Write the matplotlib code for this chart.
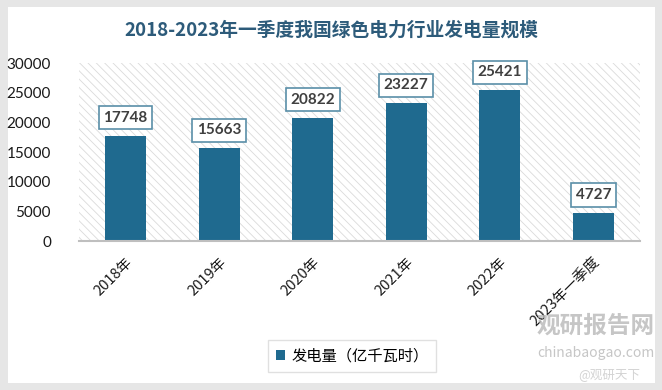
import matplotlib
matplotlib.use("Agg")
import matplotlib.pyplot as plt
from matplotlib.patches import Rectangle

plt.rcParams["font.family"] = ["Noto Sans CJK SC", "DejaVu Sans"]
plt.rcParams["hatch.linewidth"] = 0.6

categories = ["2018年", "2019年", "2020年", "2021年", "2022年", "2023年一季度"]
generation = [17748, 15663, 20822, 23227, 25421, 4727]
yticks = [0, 5000, 10000, 15000, 20000, 25000, 30000]

bar_color = "#1f6a8f"

fig = plt.figure(figsize=(6.62, 3.90), dpi=100, facecolor="#e6e6e6")
# white card behind everything
fig.patches.append(Rectangle((0.012, 0.018), 0.978, 0.965, transform=fig.transFigure,
                             facecolor="white", edgecolor="none", zorder=-10))

ax = fig.add_axes([0.119, 0.382, 0.848, 0.456])
ax.set_facecolor("white")
# light diagonal hatching over the plot area
ax.add_patch(Rectangle((0, 0), 1, 1, transform=ax.transAxes, facecolor="none",
                       edgecolor="#dadada", linewidth=0, hatch="\\\\\\\\", zorder=0))

x = list(range(len(categories)))
bars = ax.bar(x, generation, width=0.44, color=bar_color, zorder=2)

for xi, v in zip(x, generation):
    ax.annotate(f"{v}", (xi, v), xytext=(0, 13), textcoords="offset points",
                ha="center", va="center", fontsize=11, fontweight="bold",
                color="#404040", family=["Lato", "DejaVu Sans"],
                bbox=dict(boxstyle="square,pad=0.3", facecolor="white",
                          edgecolor="#5a8fa8", linewidth=1.2), zorder=3)

ax.set_xlim(-0.5, len(categories) - 0.5)
ax.set_ylim(0, 30000)
ax.set_yticks(yticks)
ax.set_yticklabels([str(t) for t in yticks], fontsize=11, color="#1a1a1a",
                   family=["Lato", "DejaVu Sans"])
ax.set_xticks(x)
ax.set_xticklabels(categories, rotation=45, ha="right", va="top",
                   rotation_mode="anchor", fontsize=10.5, color="#1a1a1a")
ax.tick_params(axis="both", length=0)
ax.tick_params(axis="x", pad=10)
ax.tick_params(axis="y", pad=20)
for side in ["top", "right", "left"]:
    ax.spines[side].set_visible(False)
ax.spines["bottom"].set_color("#bfbfbf")
ax.spines["bottom"].set_linewidth(1.5)
ax.spines["bottom"].set_zorder(4)

fig.text(0.5, 0.922, "2018-2023年一季度我国绿色电力行业发电量规模", ha="center", va="center",
         fontsize=13.5, fontweight="bold", color="#2d5b7a")

leg = fig.legend([bars], ["发电量（亿千瓦时）"], loc="center", bbox_to_anchor=(0.532, 0.087),
                 fontsize=11, frameon=True, fancybox=False, handlelength=0.6,
                 handleheight=0.6, borderpad=0.5, handletextpad=0.4)
leg.get_frame().set_edgecolor("#d9d9d9")
leg.get_frame().set_linewidth(1.0)

# watermark
fig.text(0.90, 0.165, "观研报告网", ha="center", va="center", fontsize=17,
         fontweight="bold", color="#b8b8b8", alpha=0.8)
fig.text(0.90, 0.095, "chinabaogao.com", ha="center", va="center", fontsize=10,
         color="#b8b8b8", alpha=0.8)
fig.text(0.92, 0.04, "@观研天下", ha="center", va="center", fontsize=9,
         color="#c8c8c8", alpha=0.8)

fig.savefig("out.png", dpi=100, facecolor=fig.get_facecolor())
plt.close(fig)
